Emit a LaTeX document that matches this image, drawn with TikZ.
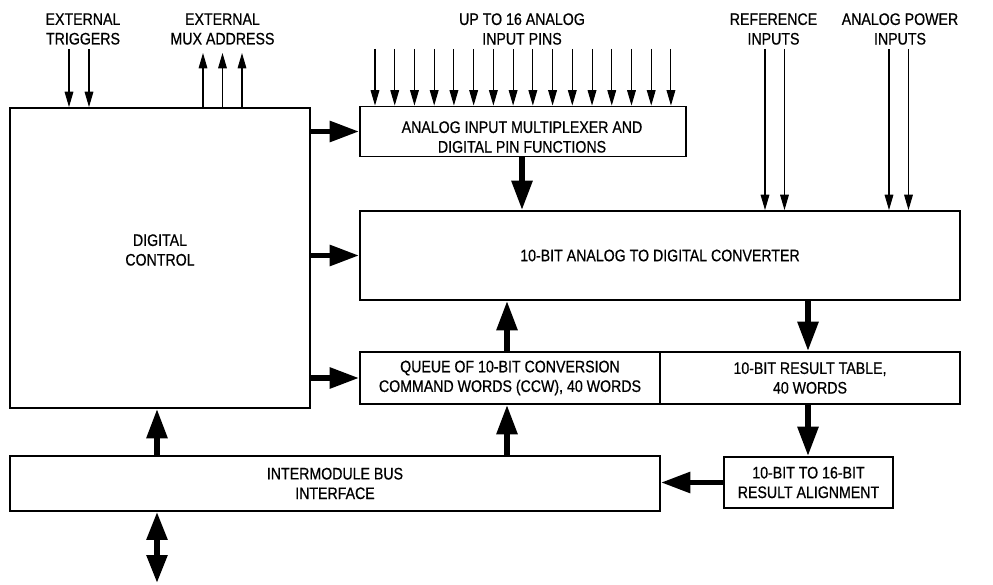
\documentclass[tikz,border=0pt]{standalone}
\usepackage{fontspec}
\setmainfont{Liberation Sans}[FakeStretch=0.85,FakeBold=0.6]
\usetikzlibrary{arrows.meta,calc}
\begin{document}
\begin{tikzpicture}[x=0.75pt,y=-0.75pt,
  font=\fontsize{12.5pt}{14.7pt}\selectfont,
  blk/.style={draw, line width=1.4pt, rectangle, inner sep=0pt, align=center},
  lbl/.style={align=center, inner sep=0pt},
  thinarrow/.style={line width=0.8pt, -{Triangle[length=11.5pt,width=6.5pt]}},
  thickarrow/.style={line width=4.2pt, -{Triangle[length=22pt,width=15pt]}},
  dblarrow/.style={line width=4.2pt, {Triangle[length=21pt,width=15pt]}-{Triangle[length=21pt,width=15pt]}}
]
\useasboundingbox (0,0) rectangle (993,585);

% blocks
\node[blk, minimum width=225pt, minimum height=225pt] (dc) at (160,258) {};
\node[lbl] (dctext) at (160,250) {DIGITAL\\CONTROL};
\node[blk, minimum width=244.5pt, minimum height=37.5pt] (mux) at (523,131.5) {};
\node[lbl] (muxtext) at (522,137) {ANALOG INPUT MULTIPLEXER AND\\DIGITAL PIN FUNCTIONS};
\node[blk, minimum width=450pt, minimum height=66.75pt] (adc) at (660,255.5) {10-BIT ANALOG TO DIGITAL CONVERTER};
\node[blk, minimum width=225pt, minimum height=39pt] (queue) at (510,378) {QUEUE OF 10-BIT CONVERSION\\COMMAND WORDS (CCW), 40 WORDS};
\node[blk, minimum width=225pt, minimum height=39pt] (rt) at (810,378) {10-BIT RESULT TABLE,\\40 WORDS};
\node[blk, minimum width=487.5pt, minimum height=41.25pt] (bus) at (335,483.5) {INTERMODULE BUS\\INTERFACE};
\node[blk, minimum width=126.75pt, minimum height=38.25pt] (aln) at (808.5,482.5) {10-BIT TO 16-BIT\\RESULT ALIGNMENT};

% top labels
\node[lbl] (trig) at (83,29) {EXTERNAL\\TRIGGERS};
\node[lbl] (maddr) at (222.5,29) {EXTERNAL\\MUX ADDRESS};
\node[lbl] (pins) at (522,29) {UP TO 16 ANALOG\\INPUT PINS};
\node[lbl] (refl) at (773.5,29) {REFERENCE\\INPUTS};
\node[lbl] (pwr) at (900,29) {ANALOG POWER\\INPUTS};

% thin arrows
\coordinate (t1) at (69,49);
\coordinate (t2) at (89,49);
\draw[thinarrow] (t1) -- (t1 |- dc.north);
\draw[thinarrow] (t2) -- (t2 |- dc.north);
\foreach \i/\xx in {1/203,2/222.5,3/242} {
  \coordinate (m\i) at (\xx,53);
  \draw[thinarrow] (m\i |- dc.north) -- (m\i);
}
\foreach \i in {0,...,15} {
  \coordinate (p\i) at ({375+19.73*\i},49);
  \draw[thinarrow] (p\i) -- (p\i |- mux.north);
}
\foreach \i/\xx in {1/765,2/784.5,3/889,4/908.5} {
  \coordinate (r\i) at (\xx,49);
  \draw[thinarrow] (r\i) -- (r\i |- adc.north);
}

% thick arrows
\draw[thickarrow] (dc.east |- mux.west) -- (mux.west);
\draw[thickarrow] (dc.east |- adc.west) -- (adc.west);
\draw[thickarrow] (dc.east |- queue.west) -- (queue.west);
\draw[thickarrow] (mux.south -| 522,0) -- (adc.north -| 522,0);
\draw[thickarrow] (queue.north -| 507,0) -- (adc.south -| 507,0);
\draw[thickarrow] (bus.north -| 507,0) -- (queue.south -| 507,0);
\draw[thickarrow] (adc.south -| 808,0) -- (rt.north -| 808,0);
\draw[thickarrow] (rt.south -| 808,0) -- (aln.north -| 808,0);
\draw[thickarrow] (aln.west) -- (aln.west -| bus.east);
\draw[thickarrow] (bus.north -| 157,0) -- (dc.south -| 157,0);
\coordinate (ext) at (157,583);
\draw[dblarrow] (bus.south -| ext) -- (ext);
\end{tikzpicture}
\end{document}
